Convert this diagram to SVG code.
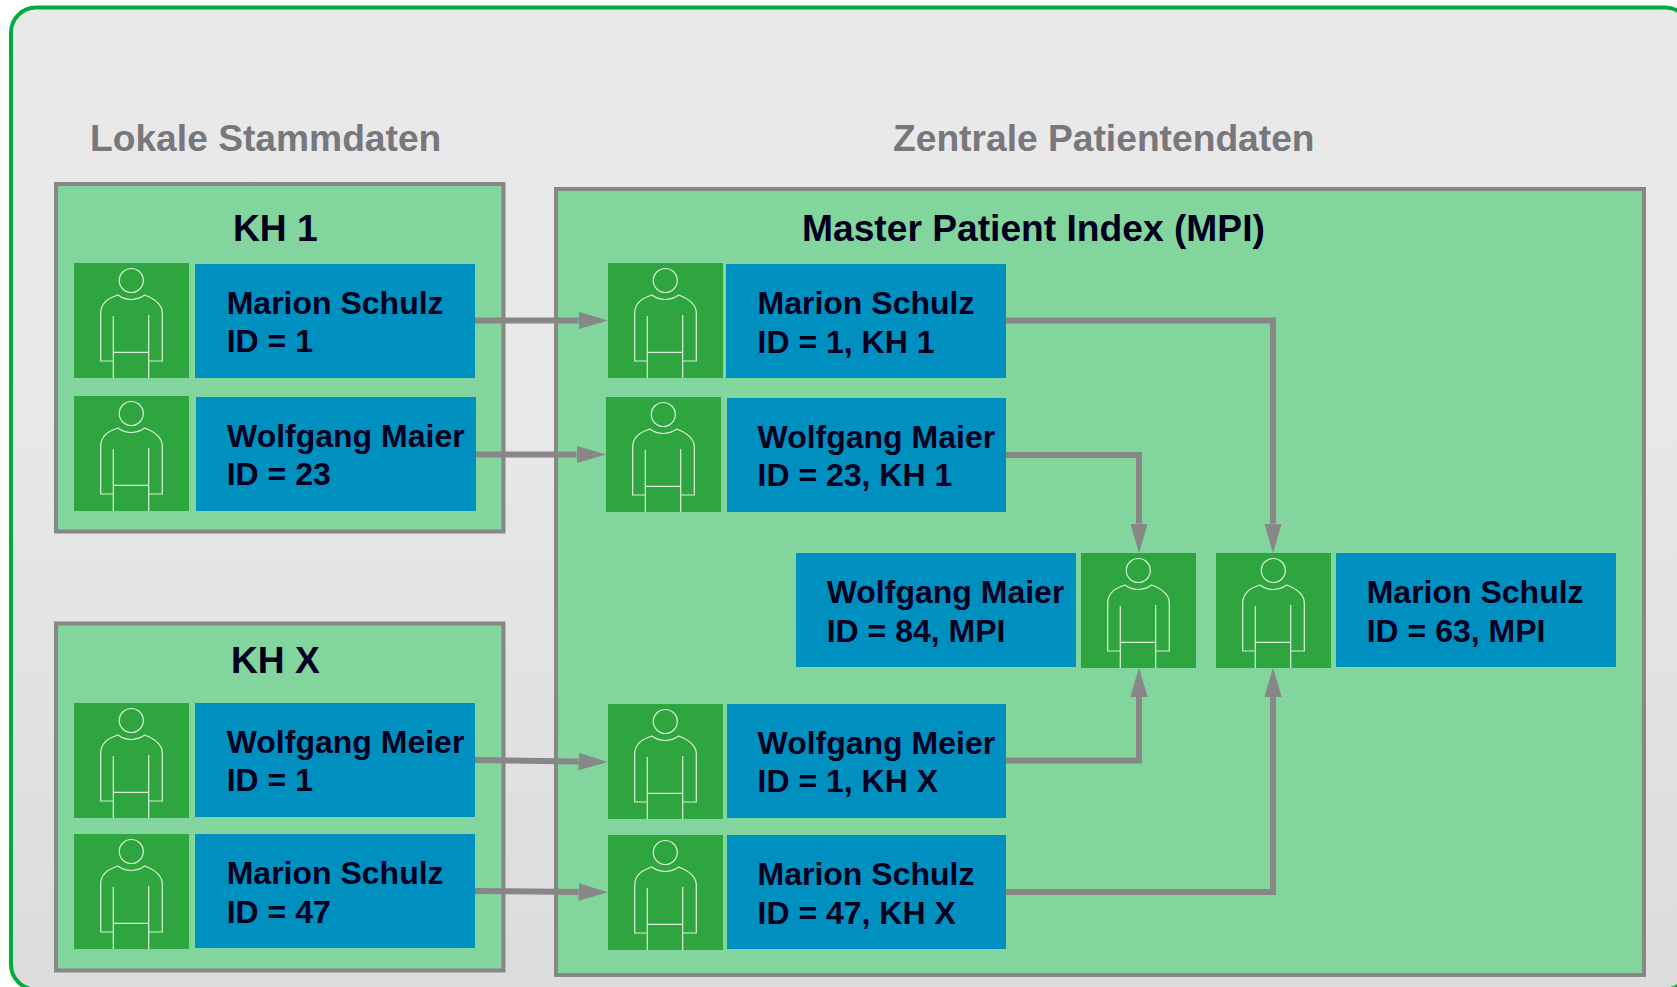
<svg xmlns="http://www.w3.org/2000/svg" width="1677" height="987" viewBox="0 0 1677 987">
<style>
text{font-family:"Liberation Sans",Arial,sans-serif;font-weight:700}
.h{font-size:37.2px;fill:#77777c}
.t{font-size:37.2px;fill:#00001e}
.n{font-size:32px;fill:#00001e}
.box{fill:#81d59d;stroke:#878787;stroke-width:4}
.b{fill:#0090c0}
.p{fill:#2ea53e}
.ic{fill:none;stroke:#dcefdc;stroke-width:1.2}
.c{fill:none;stroke:#878787;stroke-width:6}
.hd{fill:#878787}
</style>
<defs>
<linearGradient id="bg" x1="0" y1="0" x2="0" y2="1"><stop offset="0" stop-color="#e9e9e9"/><stop offset="0.4" stop-color="#e8e8e8"/><stop offset="1" stop-color="#dcdcdc"/></linearGradient>
<marker id="a" markerUnits="userSpaceOnUse" markerWidth="30" markerHeight="18" refX="0" refY="9" orient="auto"><path class="hd" d="M0 0.3L29.5 9L0 17.7z"/></marker>
<g id="person">
<rect class="p" width="115" height="115"/>
<g class="ic"><circle cx="57.300" cy="17.500" r="12"/>
<path d="M39.300 98H26.700V50C26.700 41 34 35 44 32C52 38 62 38 70.700 32C81 36 88.300 42 88.300 50V98H74.700"/>
<path d="M39.300 53V115M74.700 52V115M39.300 89.300H74.700"/></g>
</g>
</defs>
<g id="background">
<rect x="11" y="7.500" width="1679" height="982" rx="25" fill="url(#bg)" stroke="#00ab3f" stroke-width="4"/>
</g>
<g id="headings">
<text class="h" x="90" y="151">Lokale Stammdaten</text>
<text class="h" x="893" y="151">Zentrale Patientendaten</text>
</g>
<g id="kh1"><rect class="box" x="56" y="184" width="447.500" height="347.500"/><text class="t" x="233" y="241">KH 1</text></g>
<g id="khx"><rect class="box" x="56" y="623.500" width="447.500" height="347"/><text class="t" x="231" y="673">KH X</text></g>
<g id="mpi"><rect class="box" x="556" y="189" width="1088" height="786"/><text class="t" x="802" y="241">Master Patient Index (MPI)</text></g>
<g id="connectors">
<path class="c" marker-end="url(#a)" d="M475 320.500H578.500"/>
<path class="c" marker-end="url(#a)" d="M476 454.500H576.500"/>
<path class="c" marker-end="url(#a)" d="M475 760L578.500 761.500"/>
<path class="c" marker-end="url(#a)" d="M475 891L578.500 892"/>
<path class="c" marker-end="url(#a)" d="M1006 320.500H1273V523.500"/>
<path class="c" marker-end="url(#a)" d="M1006 455H1139V523.500"/>
<path class="c" marker-end="url(#a)" d="M1006 760.500H1139V697"/>
<path class="c" marker-end="url(#a)" d="M1006 892H1273V697"/>
</g>
<g id="k1a"><use href="#person" x="74" y="263"/><rect class="b" x="195" y="264" width="280" height="114"/><text class="n"><tspan x="226.700" y="314">Marion Schulz</tspan><tspan x="226.700" y="352">ID = 1</tspan></text></g>
<g id="k1b"><use href="#person" x="74" y="396"/><rect class="b" x="196" y="397" width="280" height="114"/><text class="n"><tspan x="227" y="447">Wolfgang Maier</tspan><tspan x="226.700" y="485">ID = 23</tspan></text></g>
<g id="kxa"><use href="#person" x="74" y="703"/><rect class="b" x="195" y="703" width="280" height="114"/><text class="n"><tspan x="226.700" y="753">Wolfgang Meier</tspan><tspan x="226.700" y="791">ID = 1</tspan></text></g>
<g id="kxb"><use href="#person" x="74" y="834"/><rect class="b" x="195" y="834" width="280" height="114"/><text class="n"><tspan x="226.700" y="884">Marion Schulz</tspan><tspan x="226.700" y="923">ID = 47</tspan></text></g>
<g id="m1"><use href="#person" x="608" y="263"/><rect class="b" x="726" y="264" width="280" height="114"/><text class="n"><tspan x="757.500" y="314">Marion Schulz</tspan><tspan x="757.500" y="353">ID = 1, KH 1</tspan></text></g>
<g id="m2"><use href="#person" x="606" y="397"/><rect class="b" x="727" y="398" width="279" height="114"/><text class="n"><tspan x="757.500" y="448">Wolfgang Maier</tspan><tspan x="757.500" y="486">ID = 23, KH 1</tspan></text></g>
<g id="m3"><rect class="b" x="796" y="553" width="280" height="114"/><use href="#person" x="1081" y="553"/><text class="n"><tspan x="826.700" y="603">Wolfgang Maier</tspan><tspan x="826.700" y="642">ID = 84, MPI</tspan></text></g>
<g id="m4"><use href="#person" x="1216" y="553"/><rect class="b" x="1336" y="553" width="280" height="114"/><text class="n"><tspan x="1366.700" y="603">Marion Schulz</tspan><tspan x="1366.700" y="642">ID = 63, MPI</tspan></text></g>
<g id="m5"><use href="#person" x="608" y="704"/><rect class="b" x="727" y="704" width="279" height="114"/><text class="n"><tspan x="757.500" y="754">Wolfgang Meier</tspan><tspan x="757.500" y="792">ID = 1, KH X</tspan></text></g>
<g id="m6"><use href="#person" x="608" y="835"/><rect class="b" x="727" y="835" width="279" height="114"/><text class="n"><tspan x="757.500" y="885">Marion Schulz</tspan><tspan x="757.500" y="924">ID = 47, KH X</tspan></text></g>
</svg>
